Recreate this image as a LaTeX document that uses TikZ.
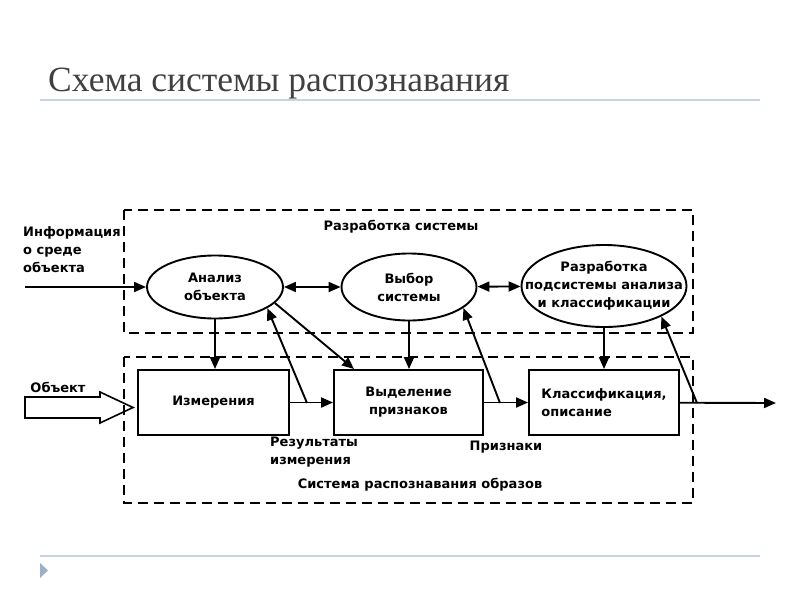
\documentclass[tikz,border=0pt]{standalone}
\usepackage{fontspec}
\setmainfont{Liberation Serif}
\newfontfamily\schemafont{DejaVu Sans}
\usetikzlibrary{arrows.meta,shapes.geometric}
\definecolor{titelgrau}{RGB}{64,64,64}
\definecolor{liniengrau}{RGB}{200,212,226}
\definecolor{markerblau}{RGB}{155,176,204}

\begin{document}
\begin{tikzpicture}[x=1pt,y=-1pt,
  txt/.style={font=\schemafont\bfseries\fontsize{13}{18}\selectfont,align=center,inner sep=0pt},
  oval/.style={draw,ellipse,line width=1.9pt,inner sep=0pt},
  block/.style={draw,rectangle,line width=1.9pt,minimum height=65pt,inner sep=0pt},
  rahmen/.style={line width=1.6pt,dash pattern=on 10pt off 6pt},
  pfeil/.style={line width=1.9pt,-{Triangle[length=12pt,width=10pt]}},
  dpfeil/.style={line width=1.9pt,{Triangle[length=12pt,width=10pt]}-{Triangle[length=12pt,width=10pt]}}]
\useasboundingbox (0,0) rectangle (800,600);

% Titel
\node[anchor=base west,inner sep=0pt,text=titelgrau,font=\fontsize{35.5}{40}\selectfont] (titel) at (48,91) {Схема системы распознавания};
\draw[liniengrau,line width=1.5pt] (40,100) -- (760,100);
\draw[liniengrau,line width=1.5pt] (40,556) -- (760,556);
\fill[markerblau] (40,563) -- (48,570.5) -- (40,578) -- cycle;

% Rahmen
\draw[rahmen] (124,210) rectangle (693,333);
\draw[rahmen] (124,357) rectangle (693,503);

% Koordinaten
\coordinate (info) at (25,287);
\coordinate (objekt) at (25,402.5);
\coordinate (res) at (307,403);
\coordinate (merk) at (500,403);
\coordinate (aus) at (697,403);
\coordinate (ende) at (776,403);

% Knoten
\node[oval,minimum width=136pt,minimum height=63pt,label={[txt]center:Анализ\\объекта}] (ana) at (215,287) {};
\node[oval,minimum width=135pt,minimum height=67pt,label={[txt]center:Выбор\\системы}] (wahl) at (409,287) {};
\node[oval,minimum width=165pt,minimum height=82pt,label={[txt]center:Разработка\\подсистемы анализа\\и классификации}] (entw) at (604,286) {};
\node[block,minimum width=151pt,txt] (mess) at (213.5,402.5) {Измерения};
\node[block,minimum width=149pt,txt] (merkm) at (408.5,402.5) {Выделение\\признаков};
\node[block,minimum width=150pt,txt,align=left] (klass) at (604,402.5) {Классификация,\\описание};

% Beschriftungen
\node[txt] (entwl) at (401,227) {Разработка системы};
\node[txt] (systl) at (420,485) {Система распознавания образов};
\node[txt,align=left,anchor=west] (resl) at (270,452) {Результаты\\измерения};
\node[txt] (merkl) at (506,447) {Признаки};
\node[txt] (objl) at (58,387) {Объект};
\node[txt,align=left,anchor=west] (infol) at (23,250) {Информация\\о среде\\объекта};

% Pfeile
\draw[pfeil] (info) -- (ana);
\draw[dpfeil] (ana) -- (wahl);
\draw[dpfeil] (wahl) -- (entw);
\draw[pfeil] (ana.south) -- (ana.south |- mess.north);
\draw[pfeil] (wahl.south) -- (wahl.south |- merkm.north);
\draw[pfeil] (entw.south) -- (entw.south |- klass.north);
\draw[pfeil] (mess) -- (merkm);
\draw[pfeil] (merkm) -- (klass);
\draw[pfeil] (klass) -- (ende);
\draw[pfeil] (ana.-15) -- ([xshift=21pt]merkm.north west);
\draw[pfeil] (res) -- (ana.-22);
\draw[pfeil] (merk) -- (wahl.-21);
\draw[pfeil] (aus) -- (entw.-28);
\draw[line width=1.6pt] (objekt) ++(0,-5.5) -- ++(75,0) -- ++(0,-5) -- ++(33,15.5) -- ++(-33,15.5) -- ++(0,-5) -- ++(-75,0) -- cycle;
\end{tikzpicture}
\end{document}
